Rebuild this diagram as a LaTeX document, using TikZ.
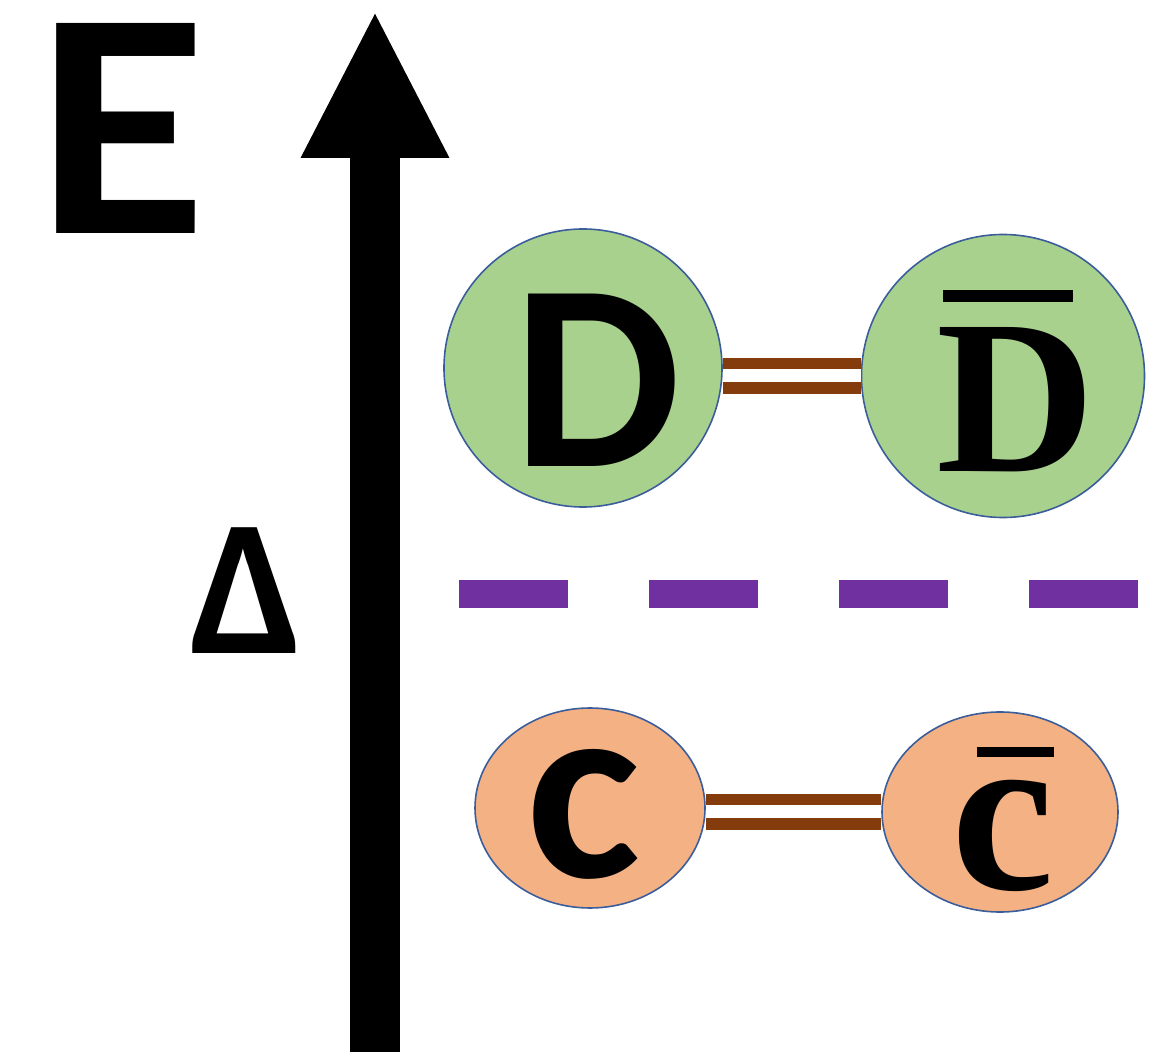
\documentclass[tikz,border=0pt]{standalone}
\usepackage{fontspec}
\setmainfont{Carlito}
\newfontfamily\serifbf{Liberation Serif}
\usepackage{graphicx}
\usepackage{tikz}
\usetikzlibrary{arrows.meta}
\usetikzlibrary{shapes.geometric}
\definecolor{mesongreen}{HTML}{A9D18E}
\definecolor{quarkorange}{HTML}{F4B183}
\definecolor{rimblue}{HTML}{3B5E9B}
\definecolor{bondbrown}{HTML}{843C0C}
\definecolor{gapviolet}{HTML}{7030A0}
% letter with a bar on top: text, bar thickness, gap, left inset, right inset
\newcommand{\barred}[5]{\setbox0\hbox{#1}\vbox{\offinterlineskip\hbox to\wd0{\kern#4\leaders\hrule height #2\hfill\kern#5}\kern #3\box0}}

\begin{document}
\begin{tikzpicture}[x=0.5pt,y=-0.5pt,
		meson/.style={circle,draw=rimblue,line width=0.8pt,fill=mesongreen,inner sep=0pt},
		quark/.style={ellipse,draw=rimblue,line width=0.8pt,fill=quarkorange,inner sep=0pt,minimum height=100pt},
		bond/.style={draw=bondbrown,line width=5.75pt,double=white,double distance=6.5pt},
		letter/.style={inner sep=0pt,text=black}]
			\useasboundingbox (0,0) rectangle (1162,1052);
			
			% draw energy axis
			\coordinate (axisfoot) at (375,1052);
			\coordinate (axistip) at (375,10);
			\draw[-{Triangle[width=68.5pt,length=74pt]}, line width=25pt] (axisfoot) -- (axistip);
			\node[letter,font=\fontsize{162}{162}\selectfont\bfseries] (E) at (122,128) {\scalebox{1.08}[1]{E}};
			\node[letter,font=\fontsize{97}{97}\selectfont\bfseries] (Delta) at (247,591) {Δ};
			
			% draw threshold
			\draw[gapviolet, line width=14pt, dash pattern=on 54.5pt off 40.5pt] (459,594) -- (1140,594);
			
			% draw D Dbar pair
			\node[meson,minimum size=139pt] (D) at (583,368) {};
			\node[meson,minimum size=141.5pt] (Dbar) at (1003,376) {};
			\draw[bond] (D.east |- Dbar) -- (Dbar.west);
			\node[letter,font=\fontsize{133}{133}\selectfont\bfseries] (Dlbl) at (597,380) {D};
			\node[letter,font=\fontsize{110}{110}\selectfont\serifbf\bfseries] (Dbarlbl) at (1016,381) {\barred{D}{6pt}{12.5pt}{3pt}{11pt}};
			
			% draw c cbar pair
			\node[quark,minimum width=115pt] (c) at (590,808) {};
			\node[quark,minimum width=118pt] (cbar) at (1000,812) {};
			\draw[bond] (c.east |- cbar) -- (cbar.west);
			\node[letter,font=\fontsize{130}{130}\selectfont\bfseries] (clbl) at (584,814) {\scalebox{1.05}[1]{c}};
			\node[letter,font=\fontsize{116}{116}\selectfont\serifbf\bfseries] (cbarlbl) at (1003,819) {\barred{c}{5pt}{11.5pt}{12.5pt}{0pt}};
			
		\end{tikzpicture}
\end{document}
